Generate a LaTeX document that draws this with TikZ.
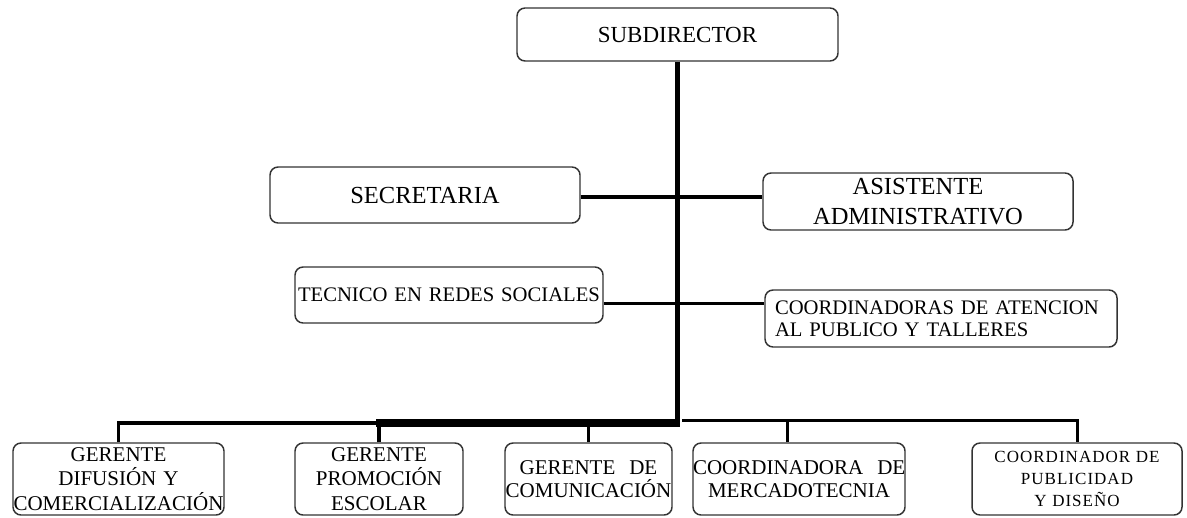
\documentclass[tikz,border=0pt]{standalone}
\usepackage{fontspec}
\setmainfont{Liberation Serif}
\newfontfamily\spacedfont[LetterSpace=6]{Liberation Serif}
\begin{document}
\begin{tikzpicture}[x=0.75pt,y=-0.75pt,
  box/.style={draw=black!80, line width=1.1pt, rounded corners=6pt, inner sep=0pt, align=center, fill=white},
  topfont/.style={font=\fontsize{18.4pt}{22.5pt}\selectfont},
  midfont/.style={font=\fontsize{15.5pt}{16.5pt}\selectfont},
  botfont/.style={font=\fontsize{15.75pt}{18.4pt}\selectfont},
  conn/.style={line width=2.4pt, draw=black},
  thinconn/.style={line width=2.25pt, draw=black},
  trunk/.style={line width=3.4pt, draw=black},
  bar/.style={line width=6pt, draw=black}]
\useasboundingbox (0,0) rectangle (1187,517);

% boxes
\node[box, font=\fontsize{17.25pt}{20pt}\selectfont, minimum width=240.75pt, minimum height=39.75pt, text width=240.75pt] (sub) at (677.5,34.5) {SUBDIRECTOR};
\node[box, topfont, minimum width=232.5pt, minimum height=42pt, text width=232.5pt] (sec) at (425,195) {SECRETARIA};
\node[box, topfont, minimum width=232.5pt, minimum height=42.75pt, text width=232.5pt] (asis) at (918,201.5) {ASISTENTE\\ADMINISTRATIVO};
\node[box, midfont, minimum width=231pt, minimum height=42pt, text width=231pt] (tec) at (449,295) {TECNICO EN REDES SOCIALES};
\node[box, midfont, align=left, inner xsep=7.5pt, minimum width=264pt, minimum height=42.75pt, text width=249pt] (coord) at (941,318.5) {COORDINADORAS DE ATENCION\\AL PUBLICO Y TALLERES};

\node[box, botfont, minimum width=158.25pt, minimum height=54pt, text width=158.25pt] (b1) at (118.5,479) {GERENTE\\DIFUSIÓN Y\\COMERCIALIZACIÓN};
\node[box, botfont, minimum width=126pt, minimum height=54pt, text width=126pt] (b2) at (379,479) {GERENTE\\PROMOCIÓN\\ESCOLAR};
\node[box, font=\fontsize{15.75pt}{17pt}\selectfont, minimum width=125.25pt, minimum height=54pt, text width=125.25pt] (b3) at (588.5,479) {GERENTE~~DE\\COMUNICACIÓN};
\node[box, font=\fontsize{15.75pt}{17pt}\selectfont, minimum width=159pt, minimum height=54pt, text width=159pt] (b4) at (799,479) {COORDINADORA~~DE\\MERCADOTECNIA};
\node[box, font=\spacedfont\fontsize{12.75pt}{16.5pt}\selectfont, minimum width=157.5pt, minimum height=54pt, text width=157.5pt] (b5) at (1077,479) {COORDINADOR DE\\PUBLICIDAD\\Y DISEÑO};

% junction coordinates
\coordinate (tb) at (677.5,426);
\coordinate (bl) at (376,423);
\coordinate (br) at (679.5,423);
\coordinate (rl) at (682,420.5);

% connectors
\draw[trunk] (sub.south) -- (tb);
\draw[conn] ([yshift=-1.5pt]sec.east) -- ([yshift=-1.5pt]sec.east -| asis.west);
\draw[thinconn] ([yshift=-6pt]tec.east) -- ([yshift=-6pt]tec.east -| coord.west);
\draw[bar] (bl) -- (br);
\draw[conn] (b1.north) |- (bl);
\draw[conn] (b2.north) -- (b2.north |- bl);
\draw[conn] (b3.north) -- (b3.north |- bl);
\draw[thinconn] (rl) -| (b5.north);
\draw[thinconn] ([xshift=-9pt]b4.north) -- ([xshift=-9pt]b4.north |- rl);
\end{tikzpicture}
\end{document}
